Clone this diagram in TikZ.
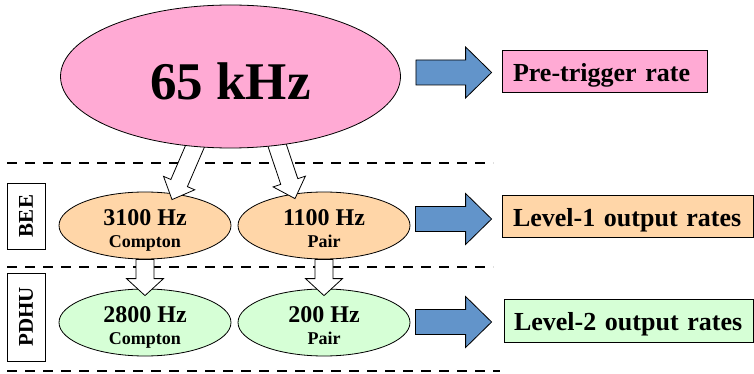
\documentclass[tikz,border=0pt]{standalone}
\usepackage{fontspec}
\setmainfont{Liberation Serif}
\usetikzlibrary{shapes.geometric,calc}
\pgfdeclarelayer{front}
\pgfsetlayers{main,front}

\definecolor{ratepink}{RGB}{255,170,212}
\definecolor{lvlone}{RGB}{255,214,168}
\definecolor{lvltwo}{RGB}{214,255,214}
\definecolor{flowblue}{RGB}{98,148,202}

% fat arrow: style, from, to, half shaft, half head, head length
\newcommand{\fatarrow}[6]{%
  \coordinate (fa hb) at ($(#3)!#6!(#2)$);
  \draw[#1] ($(#2)!#4!90:(#3)$) -- ($(fa hb)!#4!90:(#3)$) -- ($(fa hb)!#5!90:(#3)$) -- (#3)
    -- ($(fa hb)!#5!-90:(#3)$) -- ($(fa hb)!#4!-90:(#3)$) -- ($(#2)!#4!-90:(#3)$) -- cycle;}

\begin{document}
\begin{tikzpicture}[x=1pt, y=-1pt,
    rateellipse/.style={draw, ellipse, inner sep=0pt, line width=0.8pt},
    countellipse/.style={rateellipse, minimum width=172pt, minimum height=67pt, align=center,
        text height=43pt, text depth=0pt, font=\fontsize{18}{22}\selectfont\bfseries},
    ratebox/.style={draw, rectangle, inner xsep=11pt, inner ysep=0pt, align=left, line width=0.8pt,
        minimum height=42pt, text height=20pt, text depth=0pt, font=\fontsize{26}{26}\selectfont\bfseries},
    stagebox/.style={draw, rectangle, rotate=90, minimum height=38pt, inner sep=0pt, line width=0.8pt,
        font=\fontsize{21}{21}\selectfont\bfseries},
    cutline/.style={line width=2.5pt, dash pattern=on 10pt off 8pt},
    openarrow/.style={draw=black, fill=white, line width=0.8pt},
    bluearrow/.style={draw=black, fill=flowblue, line width=0.8pt}]
        \useasboundingbox (0,0) rectangle (754,374);

        % Separators
        \draw[cutline] (7,163) -- (493,163);
        \draw[cutline] (7,267) -- (493,267);
        \draw[cutline] (7,371) -- (500,371);

        % Stages
        \node[stagebox, minimum width=66pt] (bee) at (26,216) {BEE};
        \node[stagebox, minimum width=88pt] (pdhu) at (26,317) {PDHU};

        % Rates
        \begin{pgfonlayer}{front}
        \node[rateellipse, fill=ratepink, minimum width=340pt, minimum height=143pt,
              font=\fontsize{53}{53}\selectfont\bfseries, text height=46pt, text depth=0pt] (pre) at (230.5,76.5) {65 kHz};
        \end{pgfonlayer}
        \node[countellipse, fill=lvlone] (compton1) at (145,225.5) {{\fontsize{24}{24}\selectfont 3100 Hz}\\Compton};
        \node[countellipse, fill=lvlone] (pair1) at (324,225.5) {{\fontsize{24}{24}\selectfont 1100 Hz}\\Pair};
        \node[countellipse, fill=lvltwo] (compton2) at (145,322.5) {{\fontsize{24}{24}\selectfont 2800 Hz}\\Compton};
        \node[countellipse, fill=lvltwo] (pair2) at (324,322.5) {{\fontsize{24}{24}\selectfont 200 Hz}\\Pair};

        % Legend
        \node[ratebox, fill=ratepink, text width=183pt] (pretxt) at (604.5,71.5) {Pre-trigger rate};
        \node[ratebox, fill=lvlone, text width=229pt] (lvl1txt) at (627.5,216) {Level-1 output rates};
        \node[ratebox, fill=lvltwo, inner xsep=10pt, text width=229pt, minimum height=43pt] (lvl2txt) at (628.5,320.5) {Level-2 output rates};

        % Arrow ends
        \coordinate (h1s) at ($(pre.center)+(-28.5,53.5)$);
        \coordinate (h1t) at ($(compton1.north)+(27,8)$);
        \coordinate (h2s) at ($(pre.center)+(41.5,53.5)$);
        \coordinate (h2t) at ($(pair1.north)+(-29,7)$);
        \coordinate (v1t) at ($(compton2.north)+(0,7)$);
        \coordinate (v2t) at ($(pair2.north)+(0,7)$);
        \coordinate (b1s) at ($(pre.east)+(15,-4)$);
        \coordinate (b1t) at ($(pretxt.west)+(-10,1)$);
        \coordinate (b2s) at ($(pair1.east)+(5,-6.5)$);
        \coordinate (b2t) at ($(lvl1txt.west)+(-10,3)$);
        \coordinate (b3s) at ($(pair2.east)+(5,-0.5)$);
        \coordinate (b3t) at ($(lvl2txt.west)+(-12,1.5)$);

        % Arrows
        \fatarrow{openarrow}{h1s}{h1t}{9pt}{17pt}{18pt}
        \fatarrow{openarrow}{h2s}{h2t}{9pt}{17pt}{18pt}
        \fatarrow{openarrow}{compton1.south}{v1t}{9pt}{18.5pt}{17pt}
        \fatarrow{openarrow}{pair1.south}{v2t}{9pt}{18.5pt}{17pt}
        \fatarrow{bluearrow}{b1s}{b1t}{12.5pt}{25.5pt}{26pt}
        \fatarrow{bluearrow}{b2s}{b2t}{12.5pt}{25.5pt}{26pt}
        \fatarrow{bluearrow}{b3s}{b3t}{12.5pt}{25.5pt}{26pt}
    \end{tikzpicture}
\end{document}
